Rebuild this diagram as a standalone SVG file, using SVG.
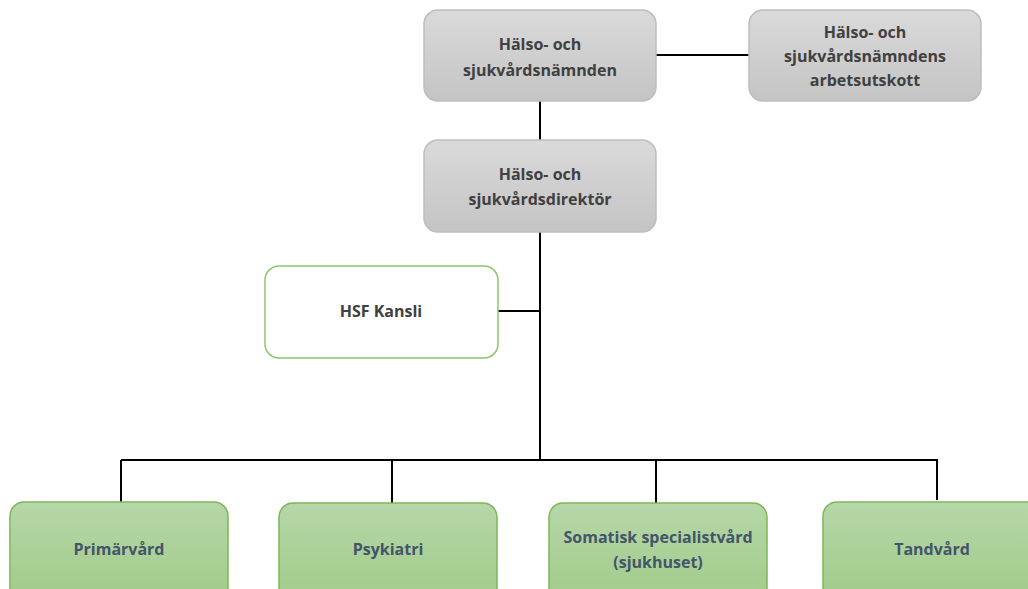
<svg xmlns="http://www.w3.org/2000/svg" width="1028" height="589" viewBox="0 0 1028 589">
<defs>
<linearGradient id="gg" x1="0" y1="0" x2="0" y2="1"><stop offset="0" stop-color="#dadada"/><stop offset="1" stop-color="#c4c4c4"/></linearGradient>
<linearGradient id="gr" x1="0" y1="0" x2="0" y2="1"><stop offset="0" stop-color="#b6d7a8"/><stop offset="1" stop-color="#a0cb89"/></linearGradient>
<style>
.gray{fill:url(#gg);stroke:#bdbdbd;stroke-width:1.5}
.green{fill:url(#gr);stroke:#7fb65a;stroke-width:1.5}
.white{fill:#fff;stroke:#8cc56c;stroke-width:1.5}
.t{font-family:"Open Sans","Liberation Sans",sans-serif;font-weight:bold;font-size:16px;fill:#404040;text-anchor:middle}
.tb{font-family:"Open Sans","Liberation Sans",sans-serif;font-weight:bold;font-size:16px;fill:#44546a;text-anchor:middle}
.c{stroke:#000;stroke-width:2;fill:none}
</style>
</defs>
<g id="connectors">
<line class="c" x1="540" y1="101" x2="540" y2="140"/>
<line class="c" x1="656" y1="55" x2="749" y2="55"/>
<line class="c" x1="540" y1="232" x2="540" y2="460"/>
<line class="c" x1="498" y1="311" x2="540" y2="311"/>
<line class="c" x1="121" y1="460" x2="937" y2="460"/>
<line class="c" x1="121" y1="460" x2="121" y2="502"/>
<line class="c" x1="392" y1="460" x2="392" y2="503"/>
<line class="c" x1="656" y1="460" x2="656" y2="503"/>
<line class="c" x1="937" y1="459" x2="937" y2="500"/>
</g>
<g id="n1"><rect class="gray" x="424" y="10" width="232" height="91" rx="14"/>
<text class="t" x="540" y="50">Hälso- och</text><text class="t" x="540" y="76">sjukvårdsnämnden</text></g>
<g id="n2"><rect class="gray" x="749" y="10" width="232" height="91" rx="14"/>
<text class="t" x="865" y="38">Hälso- och</text><text class="t" x="865" y="62">sjukvårdsnämndens</text><text class="t" x="865" y="86">arbetsutskott</text></g>
<g id="n3"><rect class="gray" x="424" y="140" width="232" height="92" rx="14"/>
<text class="t" x="540" y="180">Hälso- och</text><text class="t" x="540" y="205">sjukvårdsdirektör</text></g>
<g id="n4"><rect class="white" x="265" y="266" width="233" height="92" rx="14"/>
<text class="t" x="381" y="317">HSF Kansli</text></g>
<g id="n5"><rect class="green" x="10" y="502" width="218" height="100" rx="14"/>
<text class="tb" x="119" y="555">Primärvård</text></g>
<g id="n6"><rect class="green" x="279" y="503" width="218" height="100" rx="14"/>
<text class="tb" x="388" y="555">Psykiatri</text></g>
<g id="n7"><rect class="green" x="549" y="503" width="218" height="100" rx="14"/>
<text class="tb" x="658" y="543">Somatisk specialistvård</text><text class="tb" x="658" y="568">(sjukhuset)</text></g>
<g id="n8"><rect class="green" x="823" y="502" width="218" height="100" rx="14"/>
<text class="tb" x="932" y="555">Tandvård</text></g>
</svg>
